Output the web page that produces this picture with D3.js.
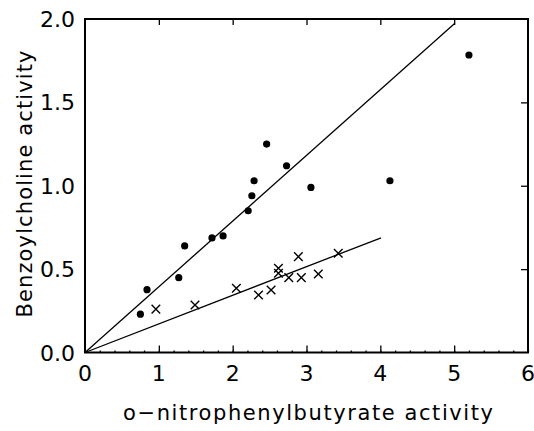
<!DOCTYPE html>
<html>
<head>
<meta charset="utf-8">
<script src="https://cdn.jsdelivr.net/npm/d3@7"></script>
<style>
  body { margin: 0; background: #fff; }
  text { font-family: "DejaVu Sans", "Liberation Sans", sans-serif; fill: #000; }
</style>
</head>
<body>
<script>
// Chart size
var width = 534;
var height = 431;

// Data
var dotX = [0.75, 0.84, 1.27, 1.35, 1.72, 1.87, 2.21, 2.26, 2.29, 2.46, 2.73, 3.06, 4.13, 5.2];
var dotY = [0.23, 0.377, 0.449, 0.639, 0.687, 0.699, 0.85, 0.94, 1.03, 1.25, 1.12, 0.99, 1.03, 1.784];

var crossX = [0.96, 1.49, 2.05, 2.35, 2.52, 2.62, 2.62, 2.76, 2.89, 2.93, 3.16, 3.43];
var crossY = [0.26, 0.285, 0.385, 0.345, 0.375, 0.505, 0.475, 0.449, 0.575, 0.449, 0.471, 0.595];

// fitted lines, start and end points
var line1X = [0, 5.01];
var line1Y = [0, 1.974];
var line2X = [0, 4.01];
var line2Y = [0, 0.688];

var xTicks = [0, 1, 2, 3, 4, 5, 6];
var yTicks = [0.0, 0.5, 1.0, 1.5, 2.0];

// Plot area
var margin = {left: 85, right: 6, top: 19, bottom: 78.5};

var x = d3.scaleLinear().domain([0, 6]).range([margin.left, width - margin.right]);
var y = d3.scaleLinear().domain([0, 2]).range([height - margin.bottom, margin.top]);

var svg = d3.select("body").append("svg")
    .attr("width", width)
    .attr("height", height);

// Frame
svg.append("rect")
    .attr("x", x(0))
    .attr("y", y(2))
    .attr("width", x(6) - x(0))
    .attr("height", y(0) - y(2))
    .attr("fill", "none")
    .attr("stroke", "#000")
    .attr("stroke-width", 2);

// Bottom axis: major ticks inward, minor at 0.2
svg.append("g")
    .attr("transform", "translate(0," + y(0) + ")")
    .call(d3.axisBottom(x).tickValues(d3.range(0, 6.01, 0.2)).tickSize(-2).tickFormat(""))
    .call(function(g) { g.select(".domain").remove(); });

svg.append("g")
    .attr("transform", "translate(0," + y(0) + ")")
    .call(d3.axisBottom(x).tickValues(xTicks.slice(1, 6)).tickSize(-7).tickFormat(""))
    .call(function(g) { g.select(".domain").remove(); });

// Top axis
svg.append("g")
    .attr("transform", "translate(0," + y(2) + ")")
    .call(d3.axisTop(x).tickValues(xTicks.slice(1, 6)).tickSize(-6).tickFormat(""))
    .call(function(g) { g.select(".domain").remove(); });

// Right axis
svg.append("g")
    .attr("transform", "translate(" + x(6) + ",0)")
    .call(d3.axisRight(y).tickValues([0.5, 1.0, 1.5]).tickSize(-7).tickFormat(""))
    .call(function(g) { g.select(".domain").remove(); });

svg.selectAll(".tick line").attr("stroke-width", 1.3);

// Tick labels
svg.selectAll(".xlab").data(xTicks).enter().append("text")
    .attr("x", function(d) { return x(d); })
    .attr("y", 381)
    .attr("text-anchor", "middle")
    .attr("font-size", 22)
    .text(function(d) { return d; });

svg.selectAll(".ylab").data(yTicks).enter().append("text")
    .attr("x", 75)
    .attr("y", function(d) { return y(d) + 8; })
    .attr("text-anchor", "end")
    .attr("font-size", 22)
    .text(function(d) { return d.toFixed(1); });

// Axis titles
svg.append("text")
    .attr("x", 308)
    .attr("y", 420)
    .attr("text-anchor", "middle")
    .attr("font-size", 21)
    .attr("textLength", 370)
    .attr("lengthAdjust", "spacing")
    .text("o\u2212nitrophenylbutyrate activity");

svg.append("text")
    .attr("transform", "translate(32," + 184 + ") rotate(-90)")
    .attr("text-anchor", "middle")
    .attr("font-size", 21)
    .attr("textLength", 267)
    .attr("lengthAdjust", "spacing")
    .text("Benzoylcholine activity");

// Regression lines
var lineGen = d3.line()
    .x(function(d) { return x(d[0]); })
    .y(function(d) { return y(d[1]); });

[[line1X, line1Y], [line2X, line2Y]].forEach(function(l) {
    svg.append("path")
        .attr("d", lineGen(d3.zip(l[0], l[1])))
        .attr("fill", "none")
        .attr("stroke", "#000")
        .attr("stroke-width", 1.3);
});

// Filled dots
svg.selectAll(".dot").data(d3.zip(dotX, dotY)).enter().append("circle")
    .attr("cx", function(d) { return x(d[0]); })
    .attr("cy", function(d) { return y(d[1]); })
    .attr("r", 3.6)
    .attr("fill", "#000");

// Crosses
var cs = 4.3;
svg.selectAll(".cross").data(d3.zip(crossX, crossY)).enter().append("path")
    .attr("d", function(d) {
        var cx = x(d[0]), cy = y(d[1]);
        return "M" + (cx - cs) + "," + (cy - cs) + "L" + (cx + cs) + "," + (cy + cs) +
               "M" + (cx - cs) + "," + (cy + cs) + "L" + (cx + cs) + "," + (cy - cs);
    })
    .attr("stroke", "#000")
    .attr("stroke-width", 1.4)
    .attr("fill", "none");
</script>
</body>
</html>
